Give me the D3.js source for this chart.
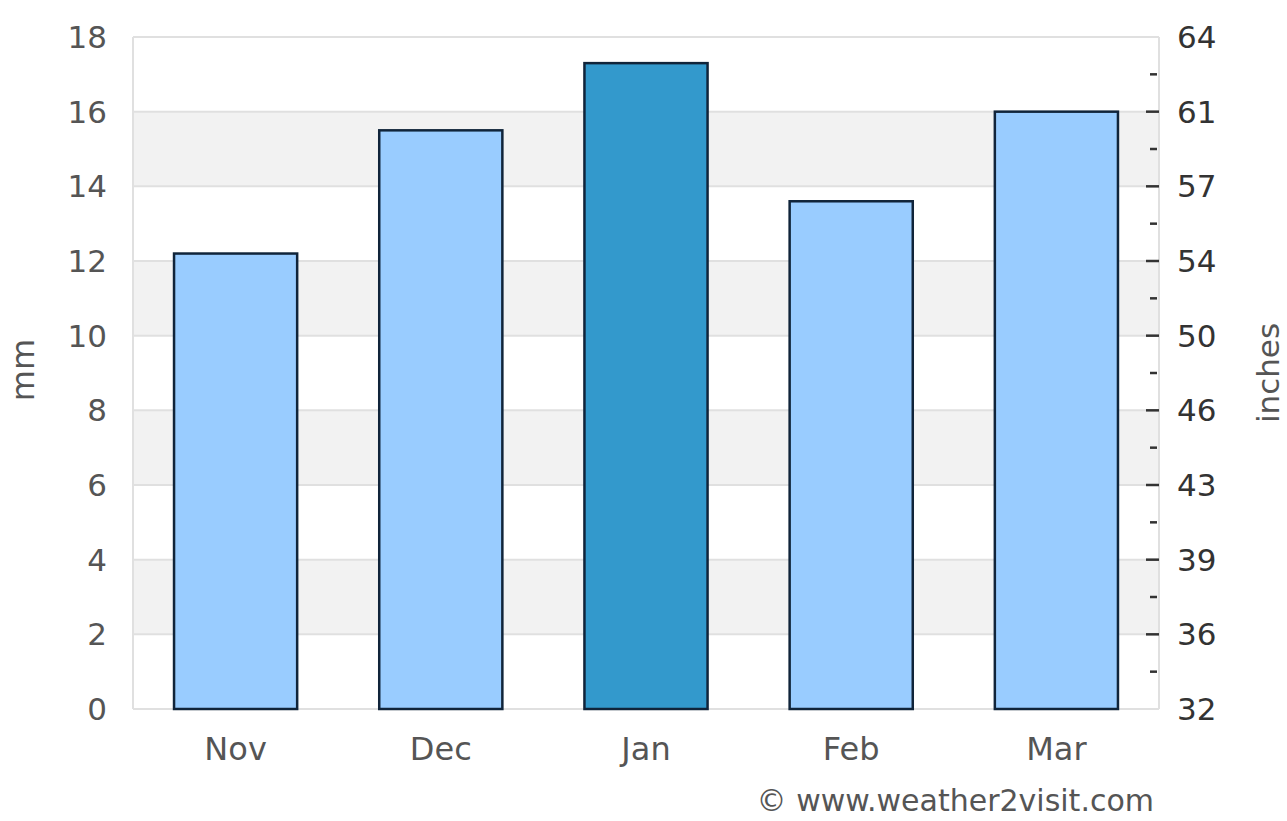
<!DOCTYPE html>
<html>
<head>
<meta charset="utf-8">
<script src="https://cdn.jsdelivr.net/npm/d3@7"></script>
<style>
    body { margin: 0; background: #fff; }
    text { font-family: "DejaVu Sans", Verdana, sans-serif; }
</style>
</head>
<body>
<svg id="chart"></svg>
<script>
// data
const months = ['Nov', 'Dec', 'Jan', 'Feb', 'Mar'];
const rainMm = [12.2, 15.5, 17.3, 13.6, 16.0];
const highlight = ['Jan'];
const leftTicks = [0, 2, 4, 6, 8, 10, 12, 14, 16, 18];
const rightLabels = ['32', '36', '39', '43', '46', '50', '54', '57', '61', '64'];

const W = 1287, H = 821;
const m = { top: 37, right: 128, bottom: 112, left: 133 };
const iw = W - m.left - m.right;
const ih = H - m.top - m.bottom;

const svg = d3.select('#chart').attr('width', W).attr('height', H);
const g = svg.append('g').attr('transform', 'translate(' + m.left + ',' + m.top + ')');

const x = d3.scaleBand().domain(months).range([0, iw]).paddingInner(0.4).paddingOuter(0.2);
const y = d3.scaleLinear().domain([0, 18]).range([ih, 0]);

// alternating bands
g.selectAll('rect.band')
    .data(leftTicks.filter(d => d % 4 === 2 && d < 18))
    .enter().append('rect')
    .attr('class', 'band')
    .attr('x', 0)
    .attr('width', iw)
    .attr('y', d => y(d + 2))
    .attr('height', d => y(d) - y(d + 2))
    .attr('fill', '#f2f2f2');

// grid
g.selectAll('line.grid')
    .data(leftTicks)
    .enter().append('line')
    .attr('class', 'grid')
    .attr('x1', 0).attr('x2', iw)
    .attr('y1', d => y(d)).attr('y2', d => y(d))
    .attr('stroke', '#e0e0e0')
    .attr('stroke-width', 2);

// frame sides
g.append('line').attr('x1', 0).attr('x2', 0).attr('y1', 0).attr('y2', ih)
    .attr('stroke', '#e0e0e0').attr('stroke-width', 2);
g.append('line').attr('x1', iw).attr('x2', iw).attr('y1', 0).attr('y2', ih)
    .attr('stroke', '#e0e0e0').attr('stroke-width', 2);

// bars
g.selectAll('rect.bar')
    .data(months)
    .enter().append('rect')
    .attr('class', 'bar')
    .attr('x', d => x(d))
    .attr('width', x.bandwidth())
    .attr('y', (d, i) => y(rainMm[i]))
    .attr('height', (d, i) => ih - y(rainMm[i]))
    .attr('fill', d => highlight.includes(d) ? '#3399cc' : '#99ccff')
    .attr('stroke', '#10243a')
    .attr('stroke-width', 2.5);

// left axis labels
g.selectAll('text.yl')
    .data(leftTicks)
    .enter().append('text')
    .attr('class', 'yl')
    .attr('x', -26)
    .attr('y', d => y(d))
    .attr('dy', '0.36em')
    .attr('text-anchor', 'end')
    .attr('font-size', 31)
    .attr('fill', '#555')
    .text(d => d);

// right axis ticks
const minor = d3.range(1, 18, 2);
g.selectAll('line.rmaj')
    .data(leftTicks.slice(1, -1))
    .enter().append('line')
    .attr('class', 'rmaj')
    .attr('x1', iw - 13).attr('x2', iw)
    .attr('y1', d => y(d)).attr('y2', d => y(d))
    .attr('stroke', '#333').attr('stroke-width', 2.5);
g.selectAll('line.rmin')
    .data(minor)
    .enter().append('line')
    .attr('class', 'rmin')
    .attr('x1', iw - 9).attr('x2', iw - 2)
    .attr('y1', d => y(d)).attr('y2', d => y(d))
    .attr('stroke', '#333').attr('stroke-width', 2.5);

g.selectAll('text.yr')
    .data(leftTicks)
    .enter().append('text')
    .attr('class', 'yr')
    .attr('x', iw + 18)
    .attr('y', d => y(d))
    .attr('dy', '0.36em')
    .attr('font-size', 31)
    .attr('fill', '#333')
    .text((d, i) => rightLabels[i]);

// month labels
g.selectAll('text.xl')
    .data(months)
    .enter().append('text')
    .attr('class', 'xl')
    .attr('x', d => x(d) + x.bandwidth() / 2)
    .attr('y', ih + 51)
    .attr('text-anchor', 'middle')
    .attr('font-size', 32)
    .attr('fill', '#555')
    .text(d => d);

// axis titles
svg.append('text')
    .attr('transform', 'translate(34,' + (m.top + ih / 2 - 3) + ') rotate(-90)')
    .attr('text-anchor', 'middle')
    .attr('font-size', 32)
    .attr('fill', '#555')
    .text('mm');
svg.append('text')
    .attr('transform', 'translate(1279,' + (m.top + ih / 2) + ') rotate(-90)')
    .attr('text-anchor', 'middle')
    .attr('font-size', 31)
    .attr('fill', '#555')
    .text('inches');

// watermark
svg.append('text')
    .attr('x', 1154)
    .attr('y', 811)
    .attr('text-anchor', 'end')
    .attr('font-size', 30)
    .attr('fill', '#555')
    .text('© www.weather2visit.com');
</script>
</body>
</html>
